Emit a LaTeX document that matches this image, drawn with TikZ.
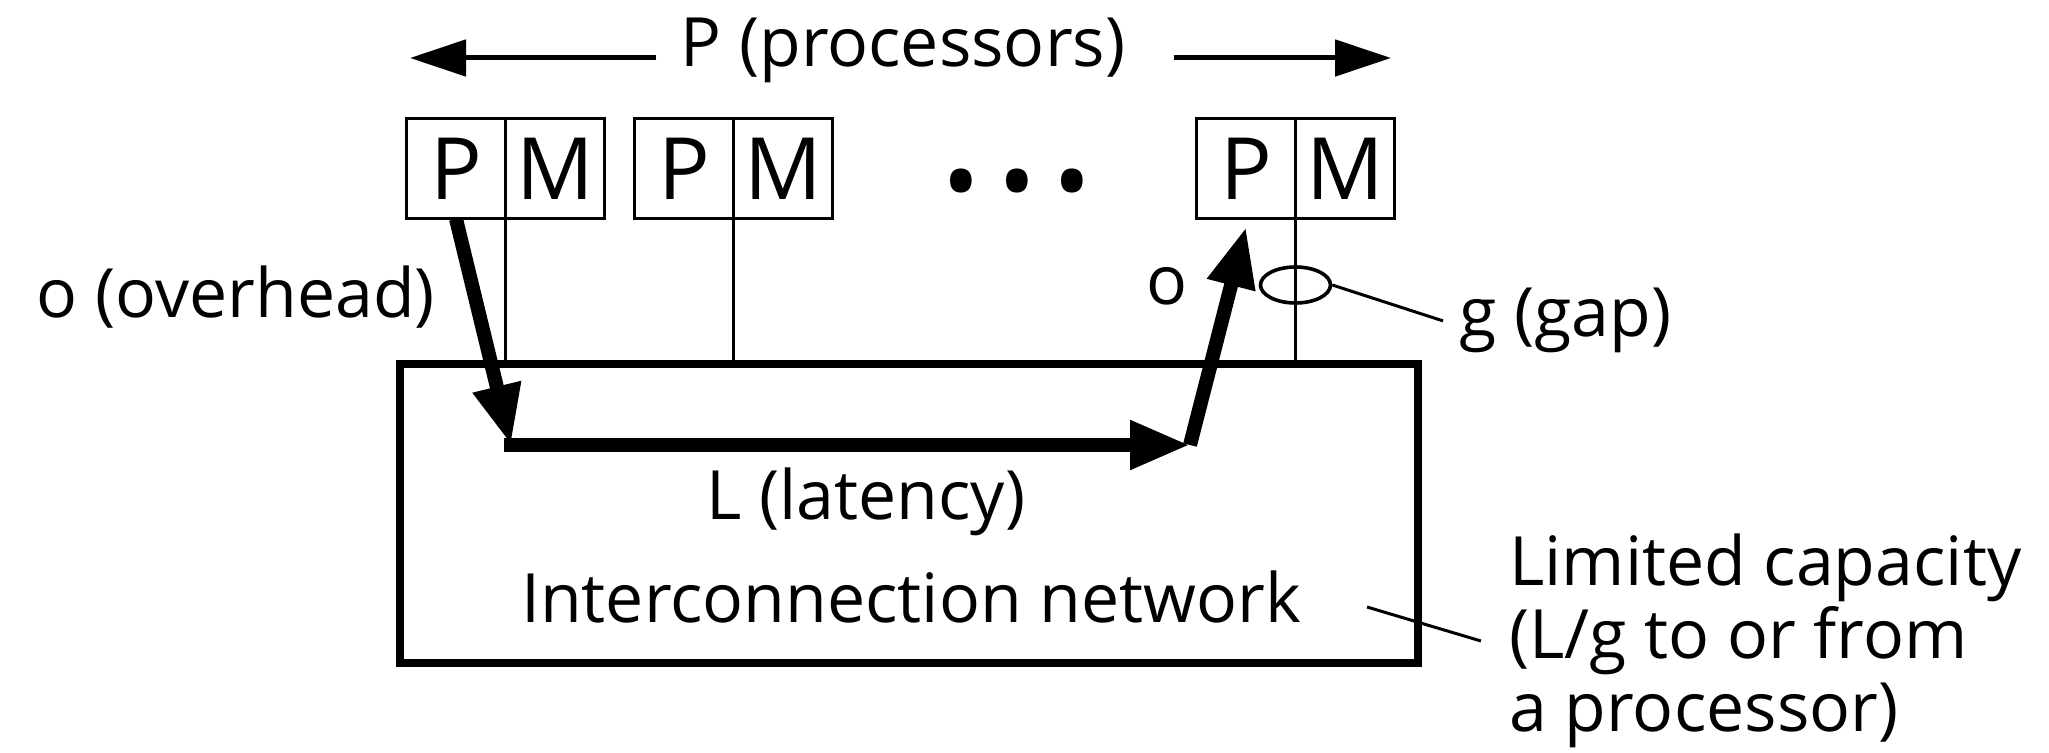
\documentclass[tikz,border=0pt]{standalone}
\usepackage{fontspec}
\setmainfont{Open Sans}
\usetikzlibrary{arrows.meta,positioning,shapes.geometric}

\begin{document}
\begin{tikzpicture}[x=0.5pt,y=-0.5pt,
    cell/.style={rectangle, draw, line width=1.5pt, minimum width=49.5pt,
    minimum height=50pt, inner sep=0pt, outer sep=0pt, font=\fontsize{43}{43}\selectfont},
    txt/.style={inner sep=0pt, font=\fontsize{34}{36.5}\selectfont},
    wire/.style={line width=1.5pt},
    dim/.style={line width=2.5pt, -{Triangle[length=28pt,width=18pt]}},
    msg/.style={line width=7pt, -{Triangle[length=30pt,width=23pt]}}]
    \useasboundingbox (0,0) rectangle (2049,753);
    % processor / memory pairs
    \node[cell] (p1) at (456,169) {P};
    \node[cell, right=0pt of p1] (m1) {M};
    \node[cell] (p2) at (684,169) {P};
    \node[cell, right=0pt of p2] (m2) {M};
    \node[font=\fontsize{50}{50}\selectfont] (dots) at (1017,193) {•\hspace{9pt}•\hspace{9pt}•};
    \node[cell] (p3) at (1246,169) {P};
    \node[cell, right=0pt of p3] (m3) {M};
    \node[txt, anchor=base] (procs) at (903,67) {P (processors)};
    \coordinate (dimL) at (410,58);
    \coordinate (dimR) at (1391,58);
    \draw[dim] ([xshift=-12pt]procs.west |- dimL) -- (dimL);
    \draw[dim] ([xshift=24pt]procs.east |- dimR) -- (dimR);
    % network
    \node[draw, line width=4pt, minimum width=509pt, minimum height=149.5pt,
        outer sep=0pt] (net) at (909,513.5) {};
    \node[txt, anchor=base] (lat) at (866,519) {L (latency)};
    \node[txt, anchor=base] (netname) at (911,622) {Interconnection network};
    \draw[wire] (m1.south west) -- (m1.south west |- net.north);
    \draw[wire] (m2.south west) -- (m2.south west |- net.north);
    \draw[wire] (m3.south west) -- (m3.south west |- net.north);
    % message path
    \coordinate (turn1) at (511,445);
    \coordinate (turn2) at (1190,445);
    \draw[msg] (p1.south) -- (turn1);
    \draw[msg, line cap=rect] (turn1) -- (turn2);
    \draw[msg] (turn2) -- ([yshift=-4pt]p3.south);
    \node[txt, anchor=base] (ovh) at (236,318) {o (overhead)};
    \node[txt, anchor=base] (ovh2) at (1167,305) {o};
    % gap
    \node[draw, ellipse, line width=1.8pt, minimum width=35pt, minimum height=18pt,
        inner sep=0pt] (gap) at (m3.south west |- 0,285) {};
    \node[txt, anchor=base west] (gaplbl) at (1459,337) {g (gap)};
    \draw[wire] (gap.east) -- ([xshift=-8pt]gaplbl.west);
    % capacity
    \node[txt, align=left, anchor=west] (cap) at (1509,641)
        {Limited capacity\\(L/g to or from\\a processor)};
    \coordinate (capfoot) at (1367,607);
    \draw[wire] (capfoot) -- ([xshift=-14pt]cap.west);
\end{tikzpicture}
\end{document}
